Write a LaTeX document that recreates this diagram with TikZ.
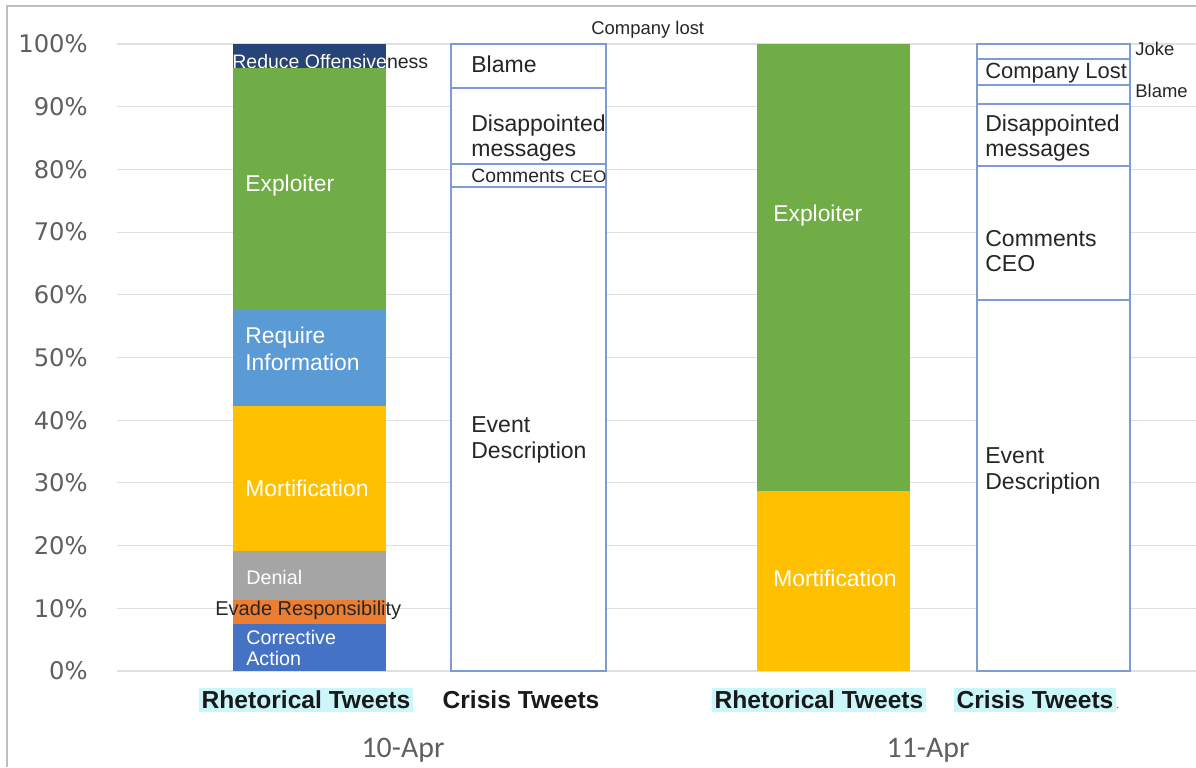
\documentclass[tikz,border=0pt]{standalone}
\usepackage{fontspec}
\setmainfont{Liberation Sans}
\newfontfamily\axisfont{DejaVu Sans}
\newfontfamily\datefont{Carlito}
\definecolor{reduceblue}{HTML}{264478}
\definecolor{exploitgreen}{HTML}{70AD47}
\definecolor{infoblue}{HTML}{5B9BD5}
\definecolor{mortgold}{HTML}{FFC000}
\definecolor{denialgray}{HTML}{A5A5A5}
\definecolor{evadeorange}{HTML}{ED7D31}
\definecolor{corrblue}{HTML}{4472C4}
\definecolor{crisisedge}{HTML}{7F9BD6}
\definecolor{marker}{HTML}{CCF7FA}
\definecolor{axisgray}{HTML}{5F5F5F}

\begin{document}
\begin{tikzpicture}[x=0.02cm,y=-0.02cm,
    grid/.style={draw=black!12,line width=0.6pt},
    crisis/.style={draw=crisisedge,fill=white,line width=0.9pt},
    ylab/.style={anchor=east,inner sep=0pt,text=axisgray,font=\axisfont\fontsize{13.8}{15}\selectfont},
    inlab/.style={anchor=west,inner sep=0pt,align=left,text=white,font=\fontsize{13}{15}\selectfont},
    smallin/.style={inlab,font=\fontsize{11.2}{12}\selectfont},
    outlab/.style={anchor=west,inner sep=0pt,align=left,text=black!85,font=\fontsize{13.1}{14.7}\selectfont},
    tinylab/.style={outlab,font=\fontsize{10.5}{12}\selectfont},
    catlab/.style={inner sep=1.5pt,font=\bfseries\fontsize{14}{16}\selectfont,text=black!90},
    datelab/.style={inner sep=0pt,text=axisgray,font=\datefont\fontsize{17}{19}\selectfont}]
  \useasboundingbox (0,0) rectangle (1196,767);
  \draw[black!25,line width=1pt] (7,767) -- (7,6) -- (1196,6);
  % grid and percent axis
  \foreach \p in {0,10,...,100} {
    \draw[grid] (117,{671-6.27*\p}) -- (1196,{671-6.27*\p});
    \node[ylab] (y\p) at (88,{671-6.27*\p}) {\p\%};
  }
  % 10-Apr rhetorical
  \fill[corrblue] (233,624) rectangle (386,671);
  \fill[evadeorange] (233,600) rectangle (386,624);
  \fill[denialgray] (233,551) rectangle (386,600);
  \fill[mortgold] (233,406) rectangle (386,551);
  \fill[infoblue] (233,309) rectangle (386,406);
  \fill[exploitgreen] (233,68) rectangle (386,309);
  \fill[reduceblue] (233,44) rectangle (386,68);
  \node[tinylab,font=\fontsize{11.1}{12}\selectfont] (reduce) at (232,62) {Reduce Offensiveness};
  \begin{scope}
    \clip (233,44) rectangle (386,68);
    \node[tinylab,font=\fontsize{11.1}{12}\selectfont,text=white] (reducein) at (232,62) {Reduce Offensiveness};
  \end{scope}
  \node[inlab] (exploit1) at (245,186) {Exploiter};
  \node[inlab] (info) at (245,349) {Require\\Information};
  \node[inlab] (mort1) at (245,488) {Mortification};
  \node[smallin] (denial) at (246,577) {Denial};
  \node[tinylab,font=\fontsize{11.4}{12}\selectfont] (evade) at (215,610) {Evade Responsibility};
  \node[smallin] (corr) at (246,648) {Corrective\\Action};
  % 10-Apr crisis
  \draw[crisis] (451,187) rectangle (606,671);
  \draw[crisis] (451,164) rectangle (606,187);
  \draw[crisis] (451,88) rectangle (606,164);
  \draw[crisis] (451,44) rectangle (606,88);
  \node[outlab] (blame1) at (471,64) {Blame};
  \node[outlab] (disap1) at (471,138) {Disappointed\\messages};
  \node[outlab,font=\fontsize{11}{12}\selectfont] (ceo1) at (471,176) {Comments {\fontsize{9.5}{11}\selectfont CEO}};
  \node[outlab] (event1) at (471,440) {Event\\Description};
  \node[tinylab] (lost1) at (591,30) {Company lost};
  % 11-Apr rhetorical
  \fill[mortgold] (757,491) rectangle (910,671);
  \fill[exploitgreen] (757,44) rectangle (910,491);
  \node[inlab] (exploit2) at (773,216) {Exploiter};
  \node[inlab] (mort2) at (773,578) {Mortification};
  % 11-Apr crisis
  \draw[crisis] (977,300) rectangle (1130,671);
  \draw[crisis] (977,166) rectangle (1130,300);
  \draw[crisis] (977,104) rectangle (1130,166);
  \draw[crisis] (977,85) rectangle (1130,104);
  \draw[crisis] (977,59) rectangle (1130,85);
  \draw[crisis] (977,44) rectangle (1130,59);
  \node[outlab,font=\fontsize{12.5}{14}\selectfont] (lost2) at (985,73) {Company Lost};
  \node[outlab] (disap2) at (985,138) {Disappointed\\messages};
  \node[outlab] (ceo2) at (985,251) {Comments\\CEO};
  \node[outlab] (event2) at (985,471) {Event\\Description};
  \node[tinylab] (joke) at (1135,49) {Joke};
  \node[tinylab] (blame2) at (1135,91) {Blame};
  % categories and dates
  \node[catlab,fill=marker] (rhet1) at (306,700) {Rhetorical Tweets};
  \node[catlab] (cris1) at (521,700) {Crisis Tweets};
  \node[catlab,fill=marker] (rhet2) at (819,700) {Rhetorical Tweets};
  \node[catlab,fill=marker] (cris2) at (1035,700) {Crisis Tweets};
  \node[inner sep=0pt,font=\tiny,anchor=south west] (dot) at (cris2.base east) {.};
  \node[datelab] (apr10) at (403,750) {10-Apr};
  \node[datelab] (apr11) at (928,750) {11-Apr};
\end{tikzpicture}
\end{document}
